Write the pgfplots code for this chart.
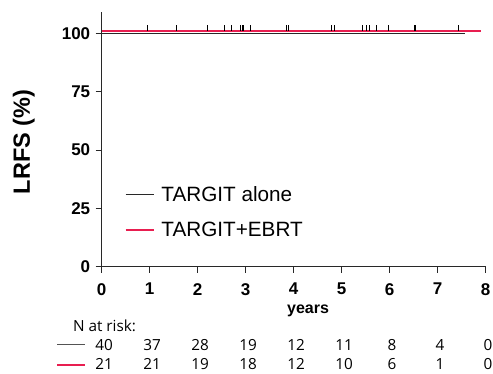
\documentclass[border=0pt]{standalone}
\usepackage{pgfplots}
\pgfplotsset{compat=1.18}
\usepackage{fontspec}
\setmainfont{Liberation Sans}
\newfontfamily\riskfont{Open Sans}
\definecolor{tred}{RGB}{232,30,80}
\definecolor{tgray}{RGB}{40,40,40}
\newcommand\riskfnt{\riskfont\fontsize{15.3}{18}\selectfont}
\newcommand\risk[3]{%
  \node[font=\riskfnt, inner sep=0pt] at (axis cs:#1,-33.6) {#2};
  \node[font=\riskfnt, inner sep=0pt] at (axis cs:#1,-41.5) {#3};}
\begin{document}
\begin{tikzpicture}
\path[use as bounding box] (-101.7pt,-106.3pt) rectangle (391.3pt,266.7pt);
\begin{axis}[
  at={(0,0)}, anchor=south west,
  scale only axis, width=384pt, height=254.4pt,
  xmin=0, xmax=8, ymin=0, ymax=109,
  axis x line=bottom, axis y line=left,
  axis line style={-, line width=0.9pt, tgray},
  xtick={0,1,...,8}, ytick={0,25,50,75,100},
  tick align=outside, major tick length=6pt,
  tick style={line width=0.9pt, tgray},
  /pgf/number format/assume math mode=true,
  tick label style={font=\fontsize{17}{20}\selectfont\bfseries},
  yticklabel style={xshift=-2pt},
  xticklabel style={yshift=-7pt},
  xlabel={years},
  xlabel style={font=\fontsize{16}{19}\selectfont\bfseries, at={(axis description cs:0.5375,-0.173)}, anchor=center},
  ylabel={LRFS (\%)},
  ylabel style={font=\fontsize{23.5}{27}\selectfont\bfseries, at={(axis description cs:-0.203,0.49)}, anchor=center},
  clip=false,
  legend style={at={(axis cs:0.48,35.3)}, anchor=north west, draw=none, fill=none,
    font=\fontsize{20.7}{24}\selectfont, row sep=15pt, inner sep=0pt,
    nodes={inner xsep=7pt}},
  legend cell align=left,
  legend image code/.code={\draw[#1] (0pt,0pt) -- (28pt,0pt);},
]
\addplot[color=tgray, line width=1.3pt] coordinates {(0,100) (7.57,100)};
\addlegendentry{TARGIT alone}
\addplot[color=tred, line width=1.5pt] coordinates {(0,100.9) (7.9,100.9)};
\addlegendentry{TARGIT+EBRT}
\addplot[color=black, only marks, mark=|, mark size=3pt, mark options={line width=0.9pt}, forget plot] coordinates {
(0.95,102.2) (1.55,102.2) (2.21,102.2) (2.56,102.2) (2.71,102.2) (2.90,102.2) (2.93,102.2) (2.96,102.2) (3.10,102.2)
(3.85,102.2) (3.89,102.2) (4.79,102.2) (4.85,102.2) (5.44,102.2) (5.51,102.2) (5.58,102.2) (5.72,102.2) (5.98,102.2)
(6.52,102.2) (6.54,102.2) (7.43,102.2)};
% risk table
\node[anchor=west, font=\riskfnt, inner sep=0pt] at (axis cs:-0.6,-25.4) {N at risk:};
\draw[tgray!80, line width=1.3pt] (axis cs:-0.93,-33.3) -- (axis cs:-0.35,-33.3);
\draw[tred, line width=1.4pt] (axis cs:-0.93,-42.2) -- (axis cs:-0.35,-42.2);
\risk{0.05}{40}{21}
\risk{1.05}{37}{21}
\risk{2.05}{28}{19}
\risk{3.05}{19}{18}
\risk{4.05}{12}{12}
\risk{5.05}{11}{10}
\risk{6.05}{8}{6}
\risk{7.05}{4}{1}
\risk{8.05}{0}{0}
\end{axis}
\end{tikzpicture}
\end{document}
